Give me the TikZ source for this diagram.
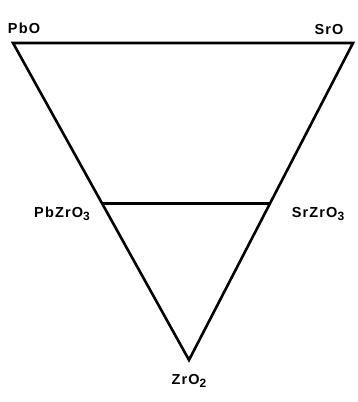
\documentclass[tikz,border=0pt]{standalone}
\usepackage{fontspec}
\setsansfont{Liberation Sans}[LetterSpace=8]
\usetikzlibrary{calc}
\newcommand{\lowsub}[1]{\raisebox{-0.45ex}{\fontsize{12}{14}\selectfont #1}}
\begin{document}
\begin{tikzpicture}[x=1pt, y=-1pt, line width=2.6pt,
    lbl/.style={font=\fontsize{14.5}{16}\sffamily\bfseries, inner sep=0pt}]
    \useasboundingbox (0,0) rectangle (358,402);

    % Corners
    \coordinate (pbo) at (13,43);
    \coordinate (sro) at (353,43);
    \coordinate (zro) at (189,360);
    \coordinate (pbz) at ($(pbo)!0.507!(zro)$);
    \coordinate (srz) at ($(sro)!0.507!(zro)$);

    % Triangle
    \draw[line join=miter] (pbo) -- (sro) -- (zro) -- cycle;

    % Tie line
    \draw (pbz) -- (srz);

    % Labels
    \node[lbl] (pbolbl) at (24,28) {PbO};
    \node[lbl] (srolbl) at (329,30) {SrO};
    \node[lbl] (pbzlbl) at (62,214) {PbZrO\lowsub{3}};
    \node[lbl] (srzlbl) at (318,214) {SrZrO\lowsub{3}};
    \node[lbl] (zrolbl) at (189,381) {ZrO\lowsub{2}};
\end{tikzpicture}
\end{document}
